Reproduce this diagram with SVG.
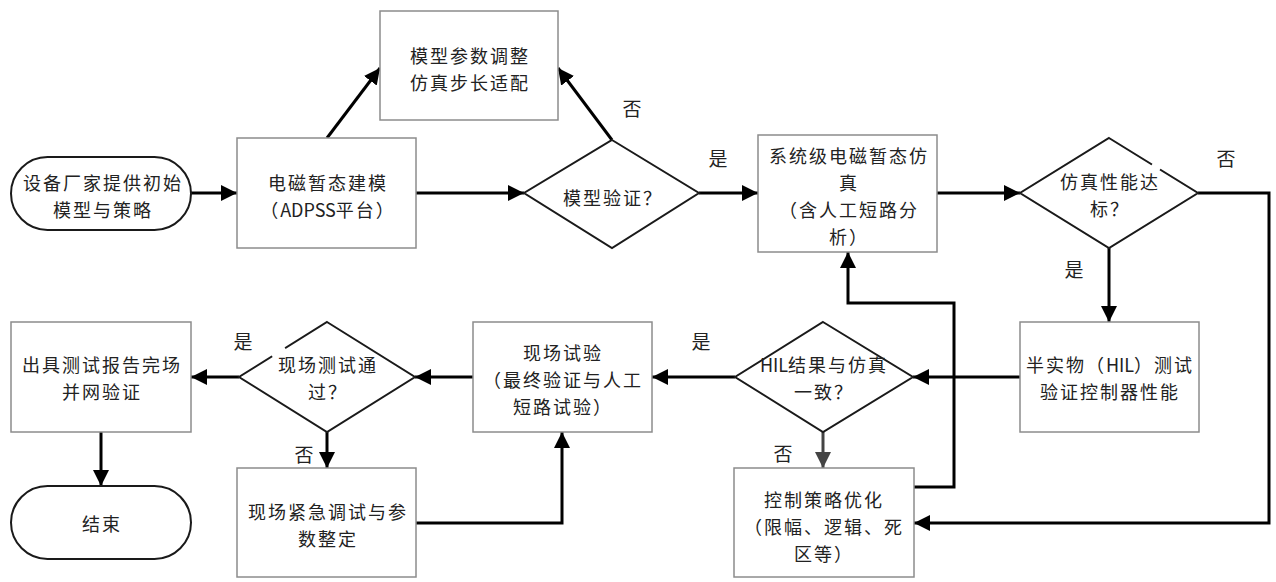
<svg xmlns="http://www.w3.org/2000/svg" width="1276" height="582" viewBox="0 0 1276 582">
<style>
.box{fill:#fff;stroke:#8c8c8c;stroke-width:1.5}
.dia{fill:#fff;stroke:#1a1a1a;stroke-width:2}
.term{fill:#fff;stroke:#1a1a1a;stroke-width:2}
.t{font-family:"Noto Sans CJK SC","Liberation Sans",sans-serif;font-size:18px;letter-spacing:2px;fill:#222;text-anchor:middle;dominant-baseline:central}
.lat{letter-spacing:0px}
.lbl{font-family:"Noto Sans CJK SC","Liberation Sans",sans-serif;font-size:19px;fill:#222;text-anchor:middle;dominant-baseline:central}
.c{fill:none;stroke:#000;stroke-width:3}
.gap{stroke:#fff;stroke-width:4}
</style>
<defs>
<marker id="ah" markerUnits="userSpaceOnUse" markerWidth="16" markerHeight="16" refX="16" refY="8" orient="auto"><path d="M0,0 L16,8 L0,16 z" fill="#000"/></marker>
<marker id="ahg" markerUnits="userSpaceOnUse" markerWidth="16" markerHeight="16" refX="16" refY="8" orient="auto"><path d="M0,0 L16,8 L0,16 z" fill="#444"/></marker>
</defs>
<rect width="1276" height="582" fill="#fff"/>
<g id="connectors">
<line class="c" x1="191" y1="193" x2="237" y2="193" marker-end="url(#ah)"/>
<line class="c" x1="416" y1="193" x2="524" y2="193" marker-end="url(#ah)"/>
<line class="c" x1="327" y1="138" x2="380" y2="68" marker-end="url(#ah)"/>
<line class="c" x1="612" y1="140" x2="558" y2="68" marker-end="url(#ah)"/>
<line class="c" x1="699" y1="193" x2="758" y2="193" marker-end="url(#ah)"/>
<line class="c" x1="937" y1="193" x2="1020" y2="193" marker-end="url(#ah)"/>
<polyline class="c" points="1198,193 1269,193 1269,523 914,523" marker-end="url(#ah)"/>
<line class="c" x1="1109" y1="248" x2="1109" y2="322" marker-end="url(#ah)"/>
<line class="c" x1="1020" y1="377" x2="913" y2="377" marker-end="url(#ah)"/>
<line class="c" x1="735" y1="377" x2="652" y2="377" marker-end="url(#ah)"/>
<line class="c" x1="823" y1="432" x2="823" y2="468" style="stroke:#444" marker-end="url(#ahg)"/>
<polyline class="c" points="914,487 954,487 954,303 848,303 848,252" marker-end="url(#ah)"/>
<line class="c" x1="473" y1="377" x2="415" y2="377" marker-end="url(#ah)"/>
<line class="c" x1="239" y1="377" x2="191" y2="377" marker-end="url(#ah)"/>
<line class="c" x1="327" y1="432" x2="327" y2="468" marker-end="url(#ah)"/>
<polyline class="c" points="416,523 562,523 562,432" marker-end="url(#ah)"/>
<line class="c" x1="101" y1="432" x2="101" y2="486" marker-end="url(#ah)"/>
</g>
<g id="start">
<rect class="term" x="11" y="157" width="180" height="73" rx="36.5"/>
<text class="t" x="103" y="182">设备厂家提供初始</text>
<text class="t" x="103" y="209">模型与策略</text>
</g>
<g id="em-model">
<rect class="box" x="237" y="138" width="179" height="110"/>
<text class="t" x="328" y="182">电磁暂态建模</text>
<text class="t" x="328" y="209">（<tspan class="lat">ADPSS</tspan>平台）</text>
</g>
<g id="param-adjust">
<rect class="box" x="380" y="11" width="178" height="109"/>
<text class="t" x="470" y="55">模型参数调整</text>
<text class="t" x="470" y="82">仿真步长适配</text>
</g>
<g id="model-verify">
<polygon class="dia" points="612,140 699,193 612,248 524,193"/>
<text class="t" x="613" y="197">模型验证？</text>
</g>
<g id="sys-sim">
<rect class="box" x="758" y="135" width="179" height="117"/>
<text class="t" x="849" y="155">系统级电磁暂态仿</text>
<text class="t" x="849" y="182">真</text>
<text class="t" x="849" y="209">（含人工短路分</text>
<text class="t" x="849" y="236">析）</text>
</g>
<g id="perf-check">
<polygon class="dia" points="1109,138 1198,193 1109,248 1020,193"/>
<line class="gap" x1="1152" y1="164.5" x2="1160" y2="169.5"/>
<text class="t" x="1110" y="181">仿真性能达</text>
<text class="t" x="1110" y="208">标？</text>
</g>
<g id="hil-test">
<rect class="box" x="1020" y="322" width="179" height="110"/>
<text class="t" x="1110" y="364">半实物（<tspan class="lat">HIL</tspan>）测试</text>
<text class="t" x="1110" y="391">验证控制器性能</text>
</g>
<g id="hil-check">
<polygon class="dia" points="823,322 913,377 823,432 735,377"/>
<text class="t" x="824" y="364"><tspan class="lat">HIL</tspan>结果与仿真</text>
<text class="t" x="824" y="391">一致？</text>
</g>
<g id="ctrl-opt">
<rect class="box" x="734" y="468" width="180" height="109"/>
<text class="t" x="824" y="499">控制策略优化</text>
<text class="t" x="824" y="526">（限幅、逻辑、死</text>
<text class="t" x="824" y="553">区等）</text>
</g>
<g id="field-test">
<rect class="box" x="473" y="322" width="179" height="110"/>
<text class="t" x="563" y="352">现场试验</text>
<text class="t" x="563" y="379">（最终验证与人工</text>
<text class="t" x="563" y="406">短路试验）</text>
</g>
<g id="field-check">
<polygon class="dia" points="327,322 415,377 327,432 239,377"/>
<line class="gap" x1="272" y1="356" x2="285" y2="348"/>
<text class="t" x="328" y="364">现场测试通</text>
<text class="t" x="328" y="391">过？</text>
</g>
<g id="field-debug">
<rect class="box" x="237" y="468" width="179" height="109"/>
<text class="t" x="328" y="511">现场紧急调试与参</text>
<text class="t" x="328" y="538">数整定</text>
</g>
<g id="report">
<rect class="box" x="11" y="322" width="180" height="110"/>
<text class="t" x="102" y="364">出具测试报告完场</text>
<text class="t" x="102" y="391">并网验证</text>
</g>
<g id="end">
<rect class="term" x="11" y="486" width="180" height="73" rx="36.5"/>
<text class="t" x="102" y="523">结束</text>
</g>
<g id="labels">
<text class="lbl" x="632" y="107">否</text>
<text class="lbl" x="718" y="157">是</text>
<text class="lbl" x="1226" y="157">否</text>
<text class="lbl" x="1074" y="268">是</text>
<text class="lbl" x="701" y="340">是</text>
<text class="lbl" x="783" y="452">否</text>
<text class="lbl" x="243" y="340">是</text>
<text class="lbl" x="304" y="453">否</text>
</g>
</svg>
